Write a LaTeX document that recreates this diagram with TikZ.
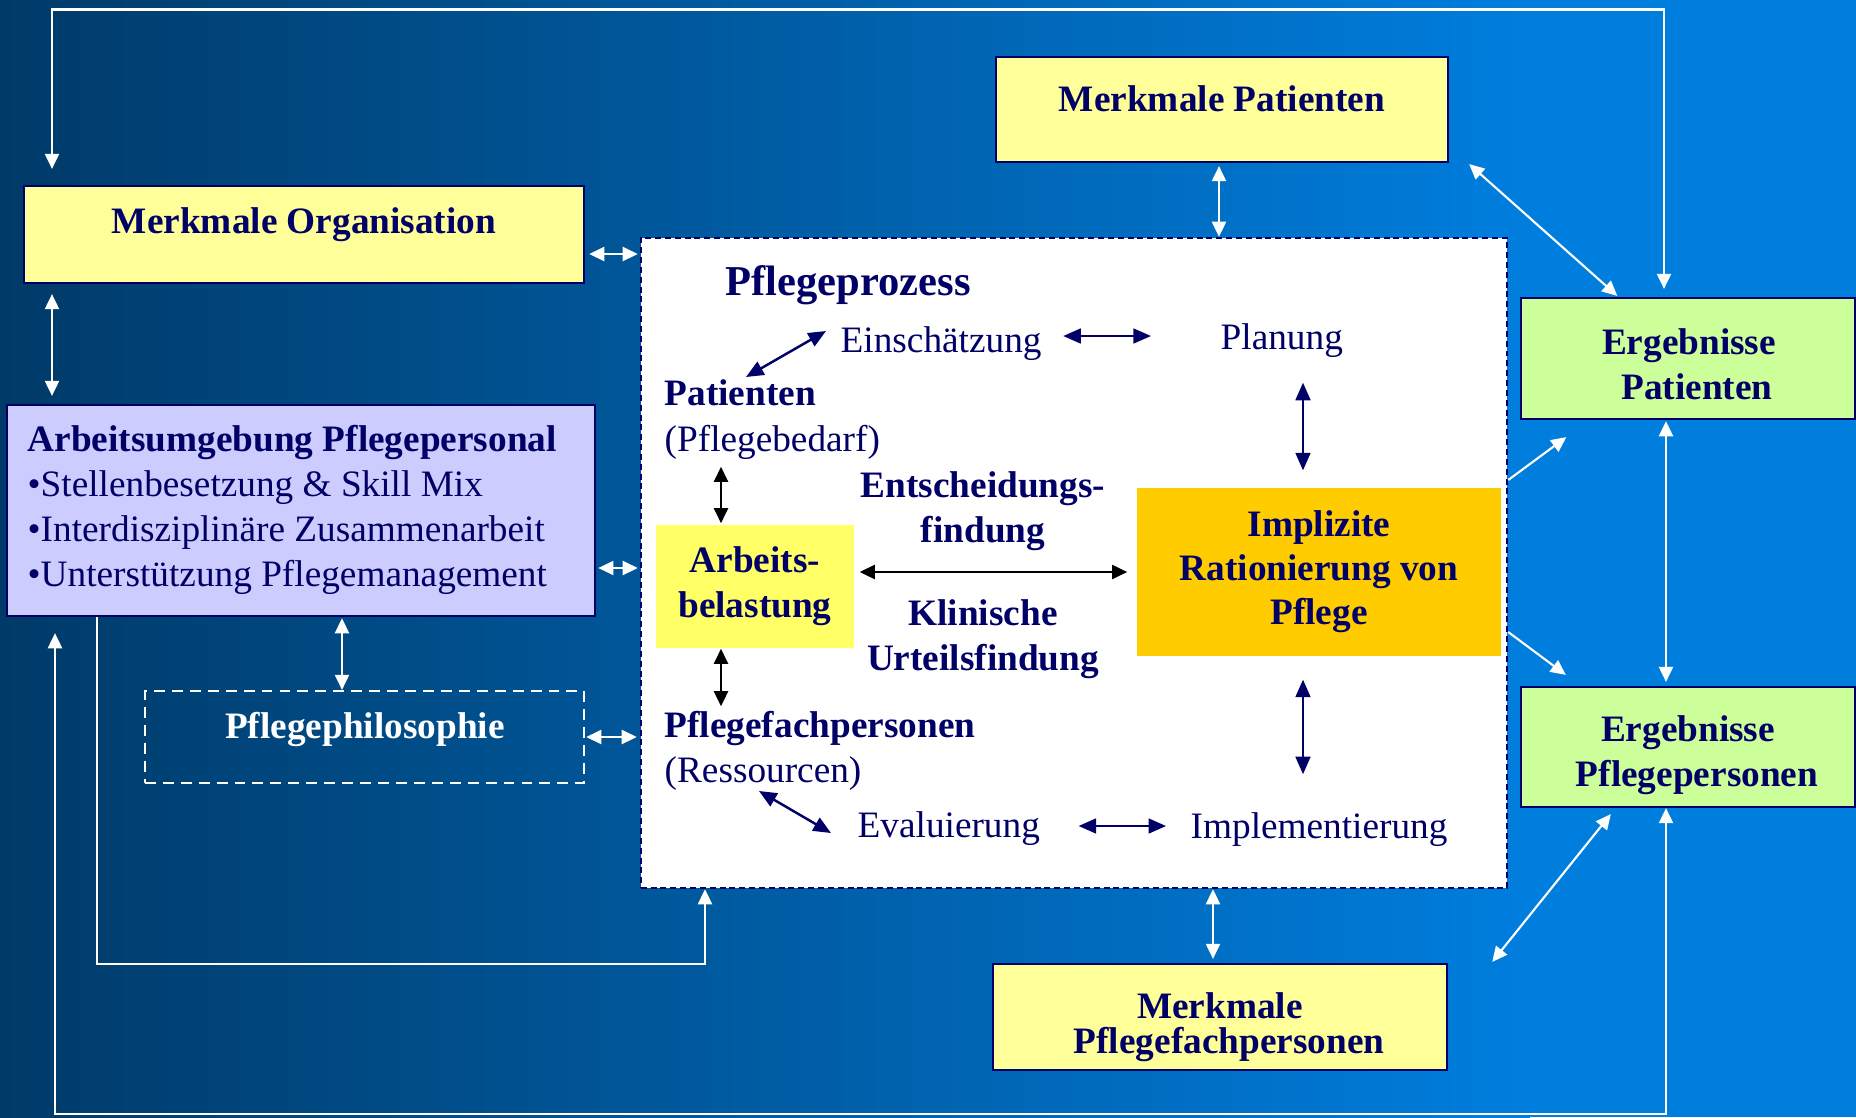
\documentclass[tikz,border=0pt]{standalone}
\usepackage{fontspec}
\setmainfont{Liberation Serif}
\usetikzlibrary{arrows.meta,calc}
\definecolor{navy}{HTML}{000066}
\definecolor{bgL}{HTML}{003A68}
\definecolor{bgR}{HTML}{007EDE}
\definecolor{lyellow}{HTML}{FFFF99}
\definecolor{lav}{HTML}{CCCCFF}
\definecolor{lgreen}{HTML}{CCFF99}
\definecolor{abyellow}{HTML}{FFFF66}
\definecolor{irorange}{HTML}{FFCC00}
\begin{document}
\begin{tikzpicture}[x=0.01cm, y=-0.01cm,
  box/.style={draw=navy, line width=0.6pt, inner sep=0pt},
  plain/.style={inner sep=0pt, text=navy, font=\fontsize{10.6}{12.8}\selectfont},
  bold/.style={inner sep=0pt, text=navy, font=\fontsize{10.6}{12.8}\selectfont\bfseries},
  one/.style={text height=7.2pt, text depth=2.3pt},
  warr/.style={draw=white, line width=0.6pt, >={Triangle[length=4.3pt,width=4pt]}, <->},
  warrone/.style={draw=white, line width=0.6pt, >={Triangle[length=4.3pt,width=4pt]}, ->},
  narr/.style={draw=navy, line width=0.7pt, >={Triangle[length=5pt,width=4.2pt]}, <->},
  karr/.style={draw=black, line width=0.6pt, >={Triangle[length=4.3pt,width=4pt]}, <->},
]
\useasboundingbox (0,0) rectangle (1856,1117);
% background
\shade[left color=bgL, right color=bgR] (0,0) rectangle (1530,1117);
\fill[bgR] (1529,0) rectangle (1856,1117);

% outer boxes
\node[box, fill=lyellow, minimum width=5.60cm, minimum height=0.97cm] (MO) at (304,234.5) {};
\node[bold, one] (MOt) at (304,225) {Merkmale Organisation};

\node[box, fill=lav, minimum width=5.88cm, minimum height=2.11cm] (AU) at (301,510.5) {};
\node[plain, align=left, anchor=west] (AUt) at (27,510) {\textbf{Arbeitsumgebung Pflegepersonal}\\•Stellenbesetzung \& Skill Mix\\•Interdisziplinäre Zusammenarbeit\\•Unterstützung Pflegemanagement};

\node[draw=white, dash pattern=on 3.1pt off 2pt, line width=0.6pt, minimum width=4.39cm, minimum height=0.92cm, inner sep=0pt] (PH) at (364.5,737) {};
\node[bold, one, text=white] (PHt) at (365,730) {Pflegephilosophie};

\node[draw=navy, fill=white, dash pattern=on 1.7pt off 1.1pt, line width=0.55pt, minimum width=8.66cm, minimum height=6.50cm, inner sep=0pt] (PP) at (1074,563) {};

\node[box, fill=lyellow, minimum width=4.52cm, minimum height=1.05cm] (MP) at (1222,109.5) {};
\node[bold, one] (MPt) at (1222,103) {Merkmale Patienten};

\node[box, fill=lgreen, minimum width=3.33cm, minimum height=1.21cm] (EP) at (1688,358.5) {};
\node[bold, align=center] (EPt) at (1689,364) {Ergebnisse\\\hspace*{0.16cm}Patienten};

\node[box, fill=lgreen, minimum width=3.34cm, minimum height=1.20cm] (EPP) at (1688,747) {};
\node[bold, align=center] (EPPt) at (1688,755) {Ergebnisse\\\hspace*{0.18cm}Pflegepersonen};

\node[box, fill=lyellow, minimum width=4.54cm, minimum height=1.06cm] (MPF) at (1220,1017) {};
\node[bold, align=center, font=\fontsize{10.6}{10}\selectfont\bfseries] (MPFt) at (1220,1027.5) {Merkmale\\\hspace*{0.18cm}Pflegefachpersonen};

% inner elements
\node[fill=abyellow, minimum width=1.98cm, minimum height=1.23cm, bold, align=center] (AB) at (755,586.5) {Arbeits-\\belastung};
\node[fill=irorange, minimum width=3.64cm, minimum height=1.68cm, bold, align=center, font=\fontsize{10.6}{12.5}\selectfont\bfseries] (IR) at (1319,572) {Implizite\\Rationierung von\\Pflege};

\node[bold, one, anchor=west, font=\fontsize{12.1}{14}\selectfont\bfseries] (tPP) at (725,287) {Pflegeprozess};
\node[plain, one, anchor=west] (tEin) at (840,344) {Einschätzung};
\node[plain, one, anchor=west] (tPlan) at (1220,341) {Planung};
\node[bold, one, anchor=west] (tPat) at (664,397) {Patienten};
\node[plain, one, anchor=west] (tBed) at (664,443) {(Pflegebedarf)};
\node[bold, align=center] (tEnt) at (983,511) {Entscheidungs-\\findung};
\node[bold, align=center] (tKli) at (983,639.5) {Klinische\\Urteilsfindung};
\node[bold, one, anchor=west] (tPf) at (664,729) {Pflegefachpersonen};
\node[plain, one, anchor=west] (tRes) at (664,774) {(Ressourcen)};
\node[plain, one, anchor=west] (tEval) at (857,829) {Evaluierung};
\node[plain, one, anchor=west] (tImpl) at (1190,830) {Implementierung};

% helper coordinates
\coordinate (tl) at (52,9.5);
\coordinate (tr) at (1664,9.5);
\coordinate (bl) at (55,1114);
\coordinate (br) at (1666,1114);
\coordinate (ul) at (97,964);
\coordinate (ur) at (705,964);
\coordinate (c1) at (600,254);
\coordinate (c2) at (600,568);
\coordinate (c3) at (342,650);
\coordinate (c4) at (1219,200);
\coordinate (c6) at (1213,920);
\coordinate (c7) at (1303,400);
\coordinate (c8) at (721,500);

% white connectors
\draw[warr, shorten <=4.55pt, shorten >=2.28pt] (MO.north -| tl) -- (tl) -- (tr) -- (EP.north -| tr);
\draw[warr, shorten <=2.85pt, shorten >=2.28pt] (MO.south -| tl) -- (AU.north -| tl);
\draw[warr, shorten <=1.14pt, shorten >=0.57pt] (MO.east |- c1) -- (PP.west |- c1);
\draw[warr, shorten <=0.6pt, shorten >=0.57pt] (AU.east |- c2) -- (PP.west |- c2);
\draw[warr, shorten <=0.3pt] (AU.south -| c3) -- (PH.north -| c3);
\draw[warr, shorten <=0.3pt, shorten >=0.85pt] (PH.east) -- (PH.east -| PP.west);
\draw[warrone] (AU.south -| ul) -- (ul) -- (ur) -- (PP.south -| ur);
\draw[warr, shorten <=4.55pt] (AU.south -| bl) -- (bl) -- (br) -- (EPP.south -| br);
\draw[warr, shorten <=0.85pt] (MP.south -| c4) -- (PP.north -| c4);
\draw[warr] ($(MP.south east)+(20,1)$) -- ($(EP.north west)+(97,-1)$);
\draw[warr, shorten <=0.3pt, shorten >=1.14pt] (EP.south -| br) -- (EPP.north -| br);
\draw[warrone] ($(PP.east)+(0,-83)$) -- ($(EP.south west)+(46,17)$);
\draw[warrone] ($(PP.east)+(0,69)$) -- ($(EPP.north west)+(46,-11)$);
\draw[warr] ($(MPF.north east)+(44,-1)$) -- ($(EPP.south west)+(91,6)$);
\draw[warr, shorten >=1.14pt] (PP.south -| c6) -- (MPF.north -| c6);

% navy connectors
\draw[narr] ($(tPat.west)+(82,-20)$) -- ($(tEin.west)+(-14,-13)$);
\draw[narr] ($(tEin.east)+(21,-8)$) -- ($(tPlan.west)+(-69,-5)$);
\draw[narr, shorten <=6.9pt, shorten >=4.8pt] (tPlan.south -| c7) -- (IR.north -| c7);
\draw[narr, shorten <=6.5pt, shorten >=10.9pt] (IR.south -| c7) -- (tImpl.north -| c7);
\draw[narr] ($(tRes.west)+(95,17)$) -- ($(tEval.west)+(-26,4)$);
\draw[narr, shorten <=10.8pt, shorten >=6.8pt] ($(tEval.east)+(0,-3)$) -- ($(tImpl.west)+(0,-4)$);

% black connectors
\draw[karr, shorten <=1.8pt, shorten >=0.3pt] (tBed.south -| c8) -- (AB.north -| c8);
\draw[karr, shorten >=1.5pt] (AB.south -| c8) -- (tPf.north -| c8);
\draw[karr, shorten <=1.4pt, shorten >=2.56pt] (AB.east |- IR.west) -- (IR.west);
\end{tikzpicture}
\end{document}
